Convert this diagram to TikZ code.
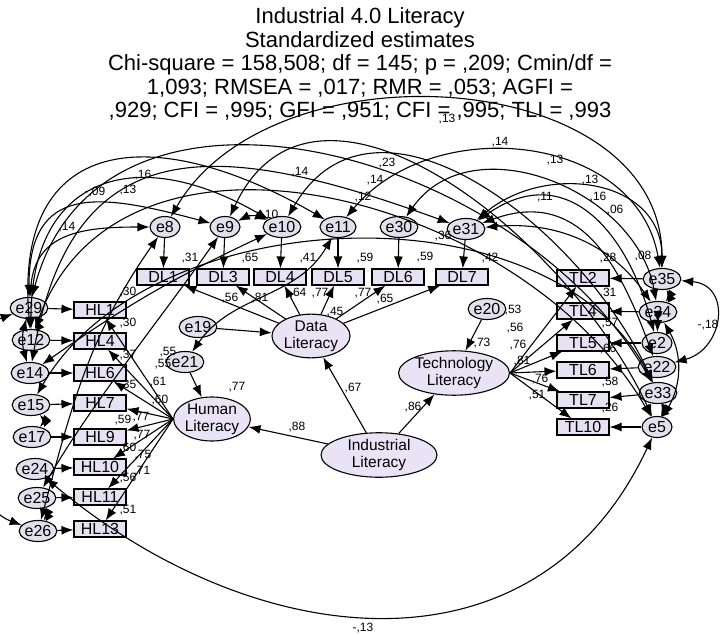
\documentclass[tikz,border=0pt]{standalone}
\usepackage{fontspec}
\setmainfont{Liberation Sans}
\usetikzlibrary{shapes.geometric}
\usetikzlibrary{arrows.meta}
\pgfdeclarelayer{edgelayer}
\pgfdeclarelayer{nodelayer}
\pgfsetlayers{nodelayer,edgelayer,main}
\definecolor{itemfill}{RGB}{230,226,243}
\definecolor{errfill}{RGB}{226,224,236}
\definecolor{latfill}{RGB}{233,227,245}
\newcommand\amostitle{\fontsize{22}{23.5}\selectfont}
\newcommand\amosnode{\fontsize{16}{17}\selectfont}
\newcommand\amoscoef{\fontsize{12}{12}\selectfont}
\tikzstyle{none}=[inner sep=0pt]
\tikzstyle{coef}=[inner sep=0pt, font=\amoscoef]
\tikzstyle{item}=[draw=black, rectangle, fill=itemfill, minimum width=52pt, minimum height=16pt, inner sep=0pt, line width=1.1pt, font=\amosnode]
\tikzstyle{errvar}=[draw=black, ellipse, fill=errfill, minimum width=30pt, minimum height=21pt, inner sep=0pt, line width=1.1pt, font=\amosnode]
\tikzstyle{latent}=[draw=black, ellipse, fill=latfill, align=center, inner sep=0pt, minimum height=44pt, line width=1.1pt, font=\fontsize{15.5}{17}\selectfont]
\tikzstyle{regress}=[-{Latex[length=12pt,width=9pt]}, draw=black, line width=1.1pt]
\tikzstyle{covar}=[{Latex[length=12pt,width=9pt]}-{Latex[length=12pt,width=9pt]}, draw=black, line width=1.1pt]

\begin{document}
\begin{tikzpicture}[x=1pt,y=1pt]
	\useasboundingbox (0,0) rectangle (722,-634);
	\node [style=none, align=center, font=\amostitle] (title) at (360,-64) {Industrial 4.0 Literacy\\Standardized estimates\\Chi-square = 158,508; df = 145; p = ,209; Cmin/df =\\1,093; RMSEA = ,017; RMR = ,053; AGFI =\\,929; CFI = ,995; GFI = ,951; CFI = ,995; TLI = ,993};
	\begin{pgfonlayer}{nodelayer}
		\node [style=latent, minimum width=116pt] (IndLit) at (379,-455) {Industrial\\Literacy};
		\node [style=latent, minimum width=78pt, minimum height=42pt] (DataLit) at (311,-336) {Data\\Literacy};
		\node [style=latent, minimum width=76pt] (HumanLit) at (212,-419) {Human\\Literacy};
		\node [style=latent, minimum width=88pt] (TechLit) at (454,-373) {Technology\\Literacy};
		\node [style=errvar] (e19) at (198,-327) {e19};
		\node [style=errvar] (e21) at (185,-362) {e21};
		\node [style=errvar] (e20) at (487,-309) {e20};
		\node [style=item] (DL1) at (163,-277) {DL1};
		\node [style=item] (DL3) at (223,-277) {DL3};
		\node [style=item] (DL4) at (280,-277) {DL4};
		\node [style=item] (DL5) at (338,-277) {DL5};
		\node [style=item] (DL6) at (398,-277) {DL6};
		\node [style=item] (DL7) at (462,-277) {DL7};
		\node [style=errvar] (e8) at (165,-227) {e8};
		\node [style=errvar] (e9) at (225,-227) {e9};
		\node [style=errvar] (e10) at (282,-227) {e10};
		\node [style=errvar] (e11) at (338,-227) {e11};
		\node [style=errvar] (e30) at (399,-227) {e30};
		\node [style=errvar] (e31) at (466,-229) {e31};
		\node [style=item] (HL1) at (100,-310) {HL1};
		\node [style=item] (HL4) at (100,-341) {HL4};
		\node [style=item] (HL6) at (100,-373) {HL6};
		\node [style=item] (HL7) at (100,-403) {HL7};
		\node [style=item] (HL9) at (100,-437) {HL9};
		\node [style=item] (HL10) at (100,-467) {HL10};
		\node [style=item] (HL11) at (100,-497) {HL11};
		\node [style=item] (HL13) at (100,-529) {HL13};
		\node [style=errvar] (e29) at (29,-308) {e29};
		\node [style=errvar] (e12) at (31,-340) {e12};
		\node [style=errvar] (e14) at (30,-373) {e14};
		\node [style=errvar] (e15) at (31,-405) {e15};
		\node [style=errvar] (e17) at (32,-437) {e17};
		\node [style=errvar] (e24) at (35,-469) {e24};
		\node [style=errvar] (e25) at (37,-498) {e25};
		\node [style=errvar] (e26) at (38,-531) {e26};
		\node [style=item] (TL2) at (583,-278) {TL2};
		\node [style=item] (TL4) at (583,-311) {TL4};
		\node [style=item] (TL5) at (583,-343) {TL5};
		\node [style=item] (TL6) at (583,-370) {TL6};
		\node [style=item] (TL7) at (583,-400) {TL7};
		\node [style=item] (TL10) at (583,-427) {TL10};
		\node [style=errvar] (e35) at (662,-279) {e35};
		\node [style=errvar] (e34) at (658,-312) {e34};
		\node [style=errvar] (e2) at (657,-343) {e2};
		\node [style=errvar] (e22) at (657,-367) {e22};
		\node [style=errvar] (e33) at (658,-393) {e33};
		\node [style=errvar] (e5) at (657,-427) {e5};
	\end{pgfonlayer}
	\begin{pgfonlayer}{edgelayer}
		% structural paths
		\draw [style=regress] (IndLit) to (HumanLit);
		\draw [style=regress] (IndLit) to (DataLit);
		\draw [style=regress] (IndLit) to (TechLit);
		\draw [style=regress] (e19) to (DataLit);
		\draw [style=regress] (e21) to (HumanLit);
		\draw [style=regress] (e20) to (TechLit);
		% loadings
		\draw [style=regress] (DataLit) to (DL1);
		\draw [style=regress] (DataLit) to (DL3);
		\draw [style=regress] (DataLit) to (DL4);
		\draw [style=regress] (DataLit) to (DL5);
		\draw [style=regress] (DataLit) to (DL6);
		\draw [style=regress] (DataLit) to (DL7);
		\draw [style=regress] (HumanLit.west) to (HL1);
		\draw [style=regress] (HumanLit.west) to (HL4);
		\draw [style=regress] (HumanLit.west) to (HL6);
		\draw [style=regress] (HumanLit.west) to (HL7);
		\draw [style=regress] (HumanLit.west) to (HL9);
		\draw [style=regress] (HumanLit.west) to (HL10);
		\draw [style=regress] (HumanLit.west) to (HL11);
		\draw [style=regress] (HumanLit.west) to (HL13);
		\draw [style=regress] (TechLit.east) to (TL2);
		\draw [style=regress] (TechLit.east) to (TL4);
		\draw [style=regress] (TechLit.east) to (TL5);
		\draw [style=regress] (TechLit.east) to (TL6);
		\draw [style=regress] (TechLit.east) to (TL7);
		\draw [style=regress] (TechLit.east) to (TL10);
		% errors
		\draw [style=regress] (e8) to (DL1);
		\draw [style=regress] (e9) to (DL3);
		\draw [style=regress] (e10) to (DL4);
		\draw [style=regress] (e11) to (DL5);
		\draw [style=regress] (e30) to (DL6);
		\draw [style=regress] (e31) to (DL7);
		\draw [style=regress] (e29) to (HL1);
		\draw [style=regress] (e12) to (HL4);
		\draw [style=regress] (e14) to (HL6);
		\draw [style=regress] (e15) to (HL7);
		\draw [style=regress] (e17) to (HL9);
		\draw [style=regress] (e24) to (HL10);
		\draw [style=regress] (e25) to (HL11);
		\draw [style=regress] (e26) to (HL13);
		\draw [style=regress] (e35) to (TL2);
		\draw [style=regress] (e34) to (TL4);
		\draw [style=regress] (e2) to (TL5);
		\draw [style=regress] (e22) to (TL6);
		\draw [style=regress] (e33) to (TL7);
		\draw [style=regress] (e5) to (TL10);
		% covariances, left column
		\draw [style=covar] (e29) to [bend left=25] (e12);
		\draw [style=covar] (e29) to [bend right=15] (e14);
		\draw [style=covar] (e15) to [bend left=40] (e17);
		\draw [style=covar] (e29) to [out=200, in=160, looseness=0.85] (e26);
		\draw [style=covar] (e25) to [bend left=30] (e26);
		\draw [style=covar] (e8) to [out=235, in=75] (e26);
		\draw [style=covar] (e9) to [out=235, in=60, looseness=0.8] (e25);
		\draw [style=covar] (e14) to [bend left=5] (e10);
		\draw [style=covar] (e21) to [out=55, in=240] (e11);
		% covariances, left column to top row
		\draw [style=covar] (e29) to [out=85, in=180, looseness=1.2] (e8);
		\draw [style=covar] (e29) to [out=90, in=165, looseness=1.5] (e9);
		\draw [style=covar] (e12) to [out=90, in=150, looseness=1.5] (e10);
		\draw [style=covar] (e12) to [out=95, in=150, looseness=1.6] (e11);
		\draw [style=covar] (e14) to [out=80, in=160, looseness=1.4] (e31);
		\draw [style=covar] (e9) to [bend left=25] (e10);
		% covariances, top row to right column
		\draw [style=covar] (e8) to [out=60, in=90, looseness=1.05] (e35);
		\draw [style=covar] (e9) to [out=65, in=115, looseness=1.1] (e5);
		\draw [style=covar] (e10) to [out=60, in=115, looseness=1.1] (e33);
		\draw [style=covar] (e30) to [out=55, in=100, looseness=1.1] (e34);
		\draw [style=covar] (e31) to [out=40, in=90, looseness=1.2] (e35);
		\draw [style=covar] (e31) to [out=35, in=105, looseness=1.3] (e2);
		\draw [style=covar] (e31) to [out=20, in=110, looseness=1.2] (e22);
		\draw [style=covar] (e31) to [out=5, in=125] (e34);
		\draw [style=covar] (e11) to [out=50, in=100, looseness=1.1] (e35);
		% covariances, left column to right column
		\draw [style=covar] (e29) to [out=75, in=120, looseness=1.1] (e33);
		\draw [style=covar] (e12) to [out=70, in=120, looseness=1.05] (e5);
		\draw [style=covar] (e15) to [out=60, in=117, looseness=0.93] (e33);
		\draw [style=covar] (e24) to [out=-40, in=-115, looseness=1.15] (e5);
		% covariances, right column
		\draw [style=covar] (e35) to [out=-5, in=15, looseness=1.6] (e22);
		\draw [style=covar] (e35) to [bend left=30] (e34);
		\draw [style=covar] (e34) to (e2);
		\draw [style=covar] (e34) to [out=-60, in=60] (e5);
		\draw [style=covar] (e33) to [bend left=20] (e5);
	\end{pgfonlayer}
	% coefficients
	\node [style=coef] (c1) at (143,-175) {,16};
	\node [style=coef] (c2) at (300,-172) {,14};
	\node [style=coef] (c3) at (95,-192) {-,09};
	\node [style=coef] (c4) at (128,-190) {,13};
	\node [style=coef] (c5) at (67,-227) {,14};
	\node [style=coef] (c6) at (270,-215) {,10};
	\node [style=coef] (c7) at (387,-163) {,23};
	\node [style=coef] (c8) at (375,-180) {,14};
	\node [style=coef] (c9) at (363,-197) {,12};
	\node [style=coef] (c10) at (500,-142) {,14};
	\node [style=coef] (c11) at (555,-160) {,13};
	\node [style=coef] (c12) at (590,-180) {,13};
	\node [style=coef] (c13) at (545,-197) {,11};
	\node [style=coef] (c14) at (598,-197) {,16};
	\node [style=coef] (c15) at (615,-210) {,06};
	\node [style=coef] (c16) at (643,-256) {,08};
	\node [style=coef] (c17) at (443,-236) {,36};
	\node [style=coef] (c18) at (447,-119) {,13};
	\node [style=coef] (c19) at (708,-325) {-,18};
	\node [style=coef] (c20) at (363,-628) {-,13};
	% squared multiple correlations
	\node [style=coef] (r1) at (190,-258) {,31};
	\node [style=coef] (r2) at (250,-258) {,65};
	\node [style=coef] (r3) at (308,-258) {,41};
	\node [style=coef] (r4) at (365,-258) {,59};
	\node [style=coef] (r5) at (425,-257) {,59};
	\node [style=coef] (r6) at (490,-258) {,42};
	\node [style=coef] (r7) at (128,-292) {,30};
	\node [style=coef] (r8) at (128,-323) {,30};
	\node [style=coef] (r9) at (128,-355) {,37};
	\node [style=coef] (r10) at (128,-385) {,35};
	\node [style=coef] (r11) at (123,-420) {,59};
	\node [style=coef] (r12) at (128,-448) {,60};
	\node [style=coef] (r13) at (128,-478) {,56};
	\node [style=coef] (r14) at (128,-510) {,51};
	\node [style=coef] (r15) at (608,-258) {,28};
	\node [style=coef] (r16) at (608,-293) {,31};
	\node [style=coef] (r17) at (610,-323) {,57};
	\node [style=coef] (r18) at (608,-349) {,66};
	\node [style=coef] (r19) at (610,-382) {,58};
	\node [style=coef] (r20) at (610,-408) {,26};
	\node [style=coef] (r21) at (237,-387) {,77};
	\node [style=coef] (r22) at (335,-312) {,45};
	\node [style=coef] (r23) at (482,-343) {,73};
	% loadings
	\node [style=coef] (l1) at (230,-298) {,56};
	\node [style=coef] (l2) at (260,-298) {,81};
	\node [style=coef] (l3) at (298,-293) {,64};
	\node [style=coef] (l4) at (320,-293) {,77};
	\node [style=coef] (l5) at (363,-293) {,77};
	\node [style=coef] (l6) at (385,-299) {,65};
	\node [style=coef] (l7) at (168,-352) {,55};
	\node [style=coef] (l8) at (163,-364) {,55};
	\node [style=coef] (l9) at (158,-382) {,61};
	\node [style=coef] (l10) at (160,-400) {,60};
	\node [style=coef] (l11) at (141,-417) {,77};
	\node [style=coef] (l12) at (142,-435) {,77};
	\node [style=coef] (l13) at (143,-455) {,75};
	\node [style=coef] (l14) at (142,-471) {,71};
	\node [style=coef] (l15) at (513,-310) {,53};
	\node [style=coef] (l16) at (515,-328) {,56};
	\node [style=coef] (l17) at (518,-345) {,76};
	\node [style=coef] (l18) at (522,-361) {,81};
	\node [style=coef] (l19) at (540,-379) {,76};
	\node [style=coef] (l20) at (537,-395) {,51};
	\node [style=coef] (l21) at (297,-427) {,88};
	\node [style=coef] (l22) at (353,-388) {,67};
	\node [style=coef] (l23) at (413,-407) {,86};
\end{tikzpicture}
\end{document}
